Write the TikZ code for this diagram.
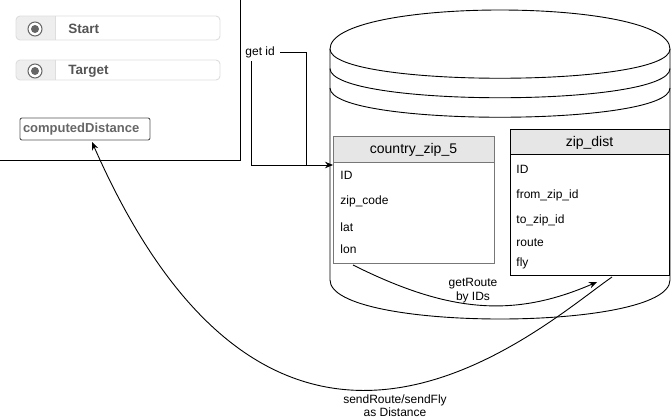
\documentclass[tikz,border=0pt]{standalone}
\usepackage{fontspec}
\setmainfont{Liberation Sans}
\usetikzlibrary{arrows.meta}
\definecolor{hdr}{HTML}{E6E6E6}
\definecolor{lbl}{HTML}{555555}
\definecolor{cdg}{HTML}{666666}
\definecolor{rowln}{HTML}{DDDDDD}
\definecolor{rowfill}{HTML}{EEEEEE}
\definecolor{tbl}{HTML}{777777}
\begin{document}
\begin{tikzpicture}[x=1pt,y=-1pt, line width=0.9pt,
  arr/.style={-{Stealth[length=8pt,width=6.5pt]}},
  fld/.style={anchor=west, inner sep=0pt, font=\fontsize{12}{14}\selectfont},
  ttl/.style={inner sep=0pt, font=\fontsize{14}{16}\selectfont},
  lab/.style={inner sep=0pt, align=center, font=\fontsize{12}{14}\selectfont},
  radiotxt/.style={anchor=west, inner sep=0pt, text=lbl, font=\bfseries\fontsize{13.5}{16}\selectfont},
  ]
\useasboundingbox (0,0) rectangle (671,418);
% left panel frame
\draw (0,160) -- (240,160) -- (240,0);
% radio rows
\foreach \ya/\yb/\yc in {16/40/29, 60/80/71}{
  \begin{scope}
    \clip[rounded corners=4] (16,\ya) rectangle (220,\yb);
    \fill[white] (16,\ya) rectangle (220,\yb);
    \fill[rowfill] (16,\ya) rectangle (55,\yb);
  \end{scope}
  \draw[rowln, rounded corners=4] (16,\ya) rectangle (220,\yb);
  \draw[rowln] (55,\ya) -- (55,\yb);
  \draw[cdg, line width=1pt, fill=white] (35,\yc) circle (7);
  \fill[cdg] (35,\yc) circle (4);
}
\node[radiotxt] (start) at (68,29) {Start};
\node[radiotxt] (target) at (68,71) {Target};
\node[draw=lbl, rounded corners=2, minimum height=22pt, inner xsep=3pt, text width=124pt,
  text=cdg, font=\bfseries\fontsize{13}{15}\selectfont] (cd) at (85,129) {computedDistance};
% datastore cylinder
\draw[fill=white] (330,49) .. controls (330,-3) and (670,-3) .. (670,49)
  -- (670,280) .. controls (670,332) and (330,332) .. (330,280) -- cycle;
\draw (330,49) .. controls (330,88) and (670,88) .. (670,49);
\draw (330,68.5) .. controls (330,107.5) and (670,107.5) .. (670,68.5);
\draw (330,88) .. controls (330,127) and (670,127) .. (670,88);
% table country_zip_5
\node[draw=tbl, fill=white, line width=1pt, minimum width=161pt, minimum height=127pt, inner sep=0pt] (t1) at (413.5,199.5) {};
\draw[draw=tbl, fill=hdr, line width=1pt] (333,136) rectangle (494,162);
\node[ttl] (t1h) at (413.5,150) {country\_zip\_5};
\node[fld] (t1a) at (340,175) {ID};
\node[fld] (t1b) at (340,201) {zip\_code};
\node[fld] (t1c) at (340,227) {lat};
\node[fld] (t1d) at (340,249) {lon};
% table zip_dist
\node[draw, fill=white, minimum width=159pt, minimum height=146pt, inner sep=0pt] (t2) at (589.5,202) {};
\draw[fill=hdr] (510,129) rectangle (669,154);
\node[ttl] (t2h) at (589.5,143) {zip\_dist};
\node[fld] (t2a) at (516,169) {ID};
\node[fld] (t2b) at (516,195) {from\_zip\_id};
\node[fld] (t2c) at (516,220) {to\_zip\_id};
\node[fld] (t2d) at (516,243) {route};
\node[fld] (t2e) at (516,263) {fly};
% get id connector
\node[lab, anchor=west] (gid) at (245,52) {get id};
\coordinate (gj) at (306,165);
\coordinate (gs) at (251,61);
\coordinate (t1in) at (333,165);
\draw ([xshift=5pt]gid.east) -| (gj);
\draw[arr] (gs) |- (t1in);
% getRoute connector
\coordinate (gr0) at (353,265);
\coordinate (gr1) at (597,282);
\draw[arr] (gr0) .. controls (449,313) and (514,318) .. (gr1);
\node[lab] (grl) at (473,291) {getRoute\\by IDs};
% sendRoute connector
\coordinate (sr0) at (612,277);
\coordinate (sr1) at (92,142);
\draw[arr] (sr0) .. controls (540,327) and (279,567) .. (sr1);
\node[lab, font=\fontsize{12}{13}\selectfont] (srl) at (395,406) {sendRoute/sendFly\\as Distance};
\end{tikzpicture}
\end{document}
